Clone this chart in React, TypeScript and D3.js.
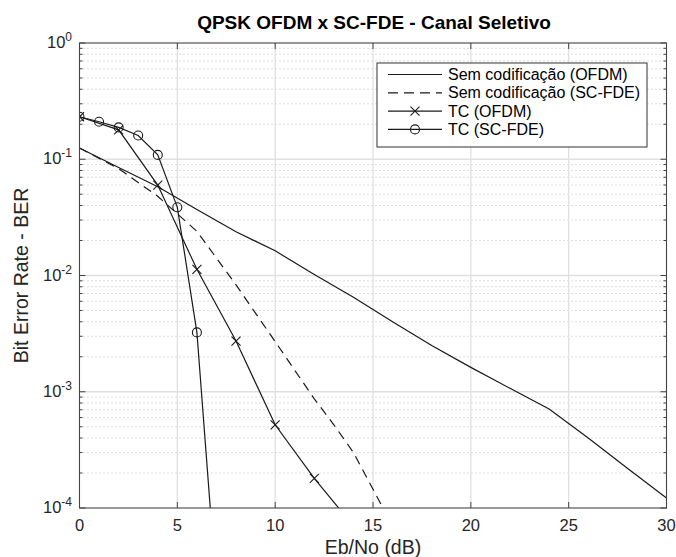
import React from 'react';
import * as d3 from 'd3';

// ---- data ----
const snrOfdmUncoded = [0, 2, 4, 6, 8, 10, 12, 14, 16, 18, 20, 22, 24, 26, 28, 30];
const berOfdmUncoded = [0.125, 0.085, 0.058, 0.037, 0.0238, 0.0163, 0.0102, 0.0065, 0.004, 0.0025, 0.00162, 0.00107, 0.00071, 0.0004, 0.00022, 0.000122];

const snrScfdeUncoded = [0, 2, 4, 6, 8, 10, 12, 13, 14, 16];
const berScfdeUncoded = [0.125, 0.083, 0.048, 0.024, 0.0083, 0.0027, 0.00087, 0.00052, 0.0003, 0.00007];

const snrTcOfdm = [0, 2, 4, 6, 8, 10, 12, 14];
const berTcOfdm = [0.232, 0.179, 0.06, 0.0113, 0.00273, 0.00052, 0.00018, 0.00007];

const snrTcScfde = [0, 1, 2, 3, 4, 5, 6, 7];
const berTcScfde = [0.232, 0.21, 0.188, 0.16, 0.109, 0.0386, 0.00324, 0.00002];

const xTicks = [0, 5, 10, 15, 20, 25, 30];
const yDecades = [-4, -3, -2, -1, 0];
const legendLabels = ['Sem codificação (OFDM)', 'Sem codificação (SC-FDE)', 'TC (OFDM)', 'TC (SC-FDE)'];

const title = 'QPSK OFDM x SC-FDE - Canal Seletivo';
const xLabel = 'Eb/No (dB)';
const yLabel = 'Bit Error Rate - BER';

// ---- layout ----
const W = 676, H = 557;
const left = 79.5, right = 666.5, top = 43, bottom = 508;
const FONT = '"Liberation Sans", Arial, Helvetica, sans-serif';
const LINE = '#1a1a1a';
const AX = '#444';

export default function App() {
  const x = d3.scaleLinear().domain([0, 30]).range([left, right]);
  const y = d3.scaleLog().domain([1e-4, 1]).range([bottom, top]);

  const line = d3.line<[number, number]>().x(d => x(d[0])).y(d => y(d[1]));
  const pts = (xs: number[], ys: number[]) => xs.map((v, i) => [v, ys[i]] as [number, number]);

  const minor: number[] = [];
  yDecades.slice(0, -1).forEach(e => {
    for (let k = 2; k <= 9; k++) minor.push(k * Math.pow(10, e));
  });

  const inRange = (v: number) => v >= 1e-4 && v <= 1;
  const ms = 4.5;

  const xMarker = (cx: number, cy: number, key: string) => (
    <g key={key} stroke={LINE} strokeWidth={1.1}>
      <line x1={cx - ms} y1={cy - ms} x2={cx + ms} y2={cy + ms} />
      <line x1={cx - ms} y1={cy + ms} x2={cx + ms} y2={cy - ms} />
    </g>
  );
  const oMarker = (cx: number, cy: number, key: string) => (
    <circle key={key} cx={cx} cy={cy} r={ms} fill="none" stroke={LINE} strokeWidth={1.1} />
  );

  const legX = 377, legY = 63, legW = 270, legH = 84;
  const rowY = (i: number) => legY + 11.5 + i * 18.3;

  return (
    <svg width={W} height={H} style={{ position: 'absolute', left: 0, top: 0, background: '#fff' }} fontFamily={FONT}>
      <rect x={0} y={0} width={W} height={H} fill="#fff" />
      <defs>
        <clipPath id="plotclip">
          <rect x={left} y={top} width={right - left} height={bottom - top} />
        </clipPath>
      </defs>
      <rect x={left} y={top} width={right - left} height={bottom - top} fill="#fff" />
      {/* grid */}
      {minor.map((v, i) => (
        <line key={'mg' + i} x1={left} x2={right} y1={y(v)} y2={y(v)} stroke="#bdbdbd" strokeWidth={1} strokeDasharray="1,3" />
      ))}
      {yDecades.slice(1, -1).map(e => (
        <line key={'yg' + e} x1={left} x2={right} y1={y(Math.pow(10, e))} y2={y(Math.pow(10, e))} stroke="#e0e0e0" strokeWidth={1.3} />
      ))}
      {xTicks.slice(1, -1).map(t => (
        <line key={'xg' + t} x1={x(t)} x2={x(t)} y1={top} y2={bottom} stroke="#e0e0e0" strokeWidth={1.3} />
      ))}

      {/* series */}
      <g clipPath="url(#plotclip)" fill="none" stroke={LINE} strokeWidth={1.2}>
        <path d={line(pts(snrOfdmUncoded, berOfdmUncoded)) || ''} />
        <path d={line(pts(snrScfdeUncoded, berScfdeUncoded)) || ''} strokeDasharray="9,6" />
        <path d={line(pts(snrTcOfdm, berTcOfdm)) || ''} />
        <path d={line(pts(snrTcScfde, berTcScfde)) || ''} />
        {snrTcOfdm.map((s, i) => inRange(berTcOfdm[i]) ? xMarker(x(s), y(berTcOfdm[i]), 'xm' + i) : null)}
        {snrTcScfde.map((s, i) => inRange(berTcScfde[i]) ? oMarker(x(s), y(berTcScfde[i]), 'om' + i) : null)}
      </g>

      {/* axes box and ticks */}
      <rect x={left} y={top} width={right - left} height={bottom - top} fill="none" stroke={AX} strokeWidth={1.1} />
      {xTicks.map(t => (
        <g key={'xt' + t} stroke={AX} strokeWidth={1}>
          <line x1={x(t)} x2={x(t)} y1={bottom} y2={bottom - 6} />
          <line x1={x(t)} x2={x(t)} y1={top} y2={top + 6} />
        </g>
      ))}
      {yDecades.map(e => (
        <g key={'yt' + e} stroke={AX} strokeWidth={1}>
          <line x1={left} x2={left + 6} y1={y(Math.pow(10, e))} y2={y(Math.pow(10, e))} />
          <line x1={right} x2={right - 6} y1={y(Math.pow(10, e))} y2={y(Math.pow(10, e))} />
        </g>
      ))}
      {minor.map((v, i) => (
        <g key={'ymt' + i} stroke={AX} strokeWidth={1}>
          <line x1={left} x2={left + 3} y1={y(v)} y2={y(v)} />
          <line x1={right} x2={right - 3} y1={y(v)} y2={y(v)} />
        </g>
      ))}

      {/* tick labels */}
      {xTicks.map(t => (
        <text key={'xl' + t} x={x(t)} y={531} fontSize={16.5} textAnchor="middle" fill="#262626">{t}</text>
      ))}
      {yDecades.map(e => (
        <text key={'yl' + e} x={72} y={y(Math.pow(10, e)) + 5} fontSize={16.5} textAnchor="end" fill="#262626">
          10<tspan fontSize={12} dy={-7}>{e}</tspan>
        </text>
      ))}

      {/* labels */}
      <text x={(left + right) / 2 + 1} y={29} fontSize={19} fontWeight="bold" textAnchor="middle" fill="#000">{title}</text>
      <text x={(left + right) / 2} y={554} fontSize={19.5} textAnchor="middle" fill="#262626">{xLabel}</text>
      <text transform={`translate(28,${(top + bottom) / 2})  rotate(-90)`} fontSize={19.5} textAnchor="middle" fill="#262626">{yLabel}</text>

      {/* legend */}
      <rect x={legX} y={legY} width={legW} height={legH} fill="#fff" stroke={AX} strokeWidth={1.1} />
      {legendLabels.map((lab, i) => {
        const yy = rowY(i);
        const x1 = legX + 11, x2 = legX + 65, xm = (x1 + x2) / 2;
        return (
          <g key={'lg' + i}>
            <line x1={x1} x2={x2} y1={yy} y2={yy} stroke={LINE} strokeWidth={1.2} strokeDasharray={i === 1 ? '10,6' : undefined} />
            {i === 2 ? xMarker(xm, yy, 'lx') : null}
            {i === 3 ? oMarker(xm, yy, 'lo') : null}
            <text x={legX + 71} y={yy + 5.5} fontSize={16} fill="#000">{lab}</text>
          </g>
        );
      })}
    </svg>
  );
}
